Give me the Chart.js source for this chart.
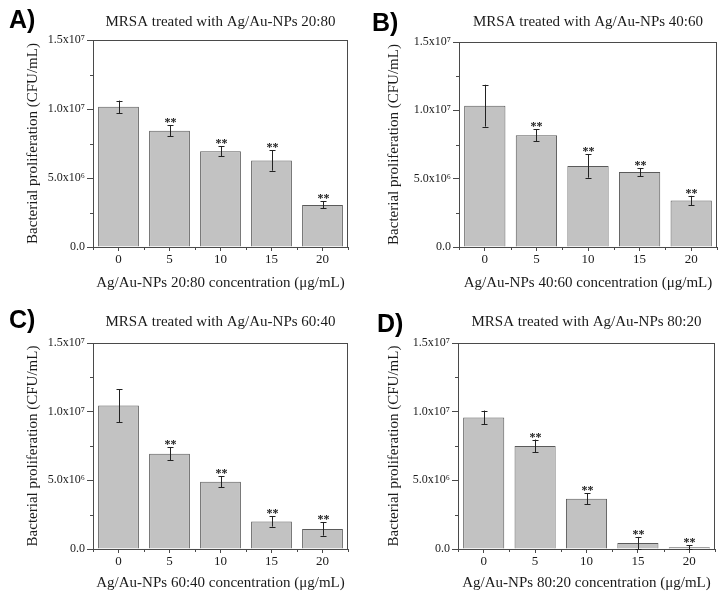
<!DOCTYPE html>
<html>
<head>
<meta charset="utf-8">
<script src="https://cdn.jsdelivr.net/npm/chart.js@4.4.1/dist/chart.umd.min.js"></script>
<style>
  html, body { margin: 0; padding: 0; background: #fff; }
  #wrap { position: relative; width: 722px; height: 600px; }
  .panel { position: absolute; width: 361px; height: 300px; }
  .panel canvas { display: block; }
</style>
</head>
<body>
<div id="wrap">
  <div class="panel" style="left:0;top:0"><canvas id="chartA" width="361" height="300"></canvas></div>
  <div class="panel" style="left:361px;top:0"><canvas id="chartB" width="361" height="300"></canvas></div>
  <div class="panel" style="left:0;top:300px"><canvas id="chartC" width="361" height="300"></canvas></div>
  <div class="panel" style="left:361px;top:300px"><canvas id="chartD" width="361" height="300"></canvas></div>
</div>
<script>
// concentrations (ug/mL)
const concLabels = ['0', '5', '10', '15', '20'];

// mean CFU/mL
const valuesA = [1.016e7, 0.842e7, 0.694e7, 0.627e7, 0.305e7];
const valuesB = [1.034e7, 0.818e7, 0.592e7, 0.548e7, 0.340e7];
const valuesC = [1.044e7, 0.694e7, 0.490e7, 0.200e7, 0.146e7];
const valuesD = [0.958e7, 0.750e7, 0.366e7, 0.044e7, 0.012e7];

// error bar half-heights
const errorsA = [0.045e7, 0.040e7, 0.036e7, 0.074e7, 0.025e7];
const errorsB = [0.153e7, 0.043e7, 0.085e7, 0.030e7, 0.034e7];
const errorsC = [0.120e7, 0.047e7, 0.040e7, 0.037e7, 0.049e7];
const errorsD = [0.050e7, 0.047e7, 0.040e7, 0.044e7, 0.015e7];

// significance marks
const sigMarks = ['', '**', '**', '**', '**'];

const ratios = ['20:80', '40:60', '60:40', '80:20'];
const panelLetters = ['A)', 'B)', 'C)', 'D)'];

// y axis ticks
const yMajorTicks = [0, 5e6, 1e7, 1.5e7];
const yTickLabels = ['0.0', '5.0x10\u2076', '1.0x10\u2077', '1.5x10\u2077'];
const yMinorTicks = [2.5e6, 7.5e6, 1.25e7];

// plot area of each panel (panel coords)
const boxes = [
  { left: 93, top: 40, right: 348, bottom: 247, lx: 9, ly: 28 },
  { left: 98, top: 42, right: 356, bottom: 247, lx: 11, ly: 31 },
  { left: 93, top: 43, right: 348, bottom: 249, lx: 9, ly: 28 },
  { left: 97, top: 43, right: 354, bottom: 249, lx: 16, ly: 32 }
];

const serif = "'Liberation Serif', 'Times New Roman', serif";
const textColor = '#1a1a1a';
const axisColor = '#4a4a4a';

const panelDecor = {
  id: 'panelDecor',
  afterDatasetsDraw(chart, args, opts) {
    const ctx = chart.ctx;
    const area = chart.chartArea;
    const x = chart.scales.x;
    const y = chart.scales.y;
    ctx.save();

    // frame
    ctx.strokeStyle = axisColor;
    ctx.lineWidth = 1;
    ctx.strokeRect(area.left + 0.5, area.top + 0.5, area.right - area.left - 1, area.bottom - area.top);

    // minor ticks
    ctx.beginPath();
    yMinorTicks.forEach(v => {
      const py = Math.round(y.getPixelForValue(v)) + 0.5;
      ctx.moveTo(area.left - 3, py);
      ctx.lineTo(area.left, py);
    });
    const n = concLabels.length;
    for (let i = 0; i <= n; i++) {
      const px = Math.round(x.getPixelForValue(i - 0.5)) + 0.5;
      ctx.moveTo(px, area.bottom);
      ctx.lineTo(px, area.bottom + 3);
    }
    ctx.stroke();

    // error bars and marks
    const meta = chart.getDatasetMeta(0);
    ctx.strokeStyle = '#222';
    ctx.fillStyle = textColor;
    ctx.font = "bold 12px " + serif;
    ctx.textAlign = 'center';
    ctx.textBaseline = 'alphabetic';
    meta.data.forEach((bar, i) => {
      const v = opts.values[i];
      const e = opts.errors[i];
      const px = Math.round(bar.x) + 0.5;
      const yt = y.getPixelForValue(v + e);
      const yb = y.getPixelForValue(Math.max(0, v - e));
      ctx.beginPath();
      ctx.moveTo(px, yt);
      ctx.lineTo(px, yb);
      ctx.moveTo(px - 3, Math.round(yt) + 0.5);
      ctx.lineTo(px + 3, Math.round(yt) + 0.5);
      ctx.moveTo(px - 3, Math.round(yb) + 0.5);
      ctx.lineTo(px + 3, Math.round(yb) + 0.5);
      ctx.stroke();
      if (sigMarks[i]) ctx.fillText(sigMarks[i], px, yt + 1);
    });

    // chart title over plot area
    ctx.font = "15px " + serif;
    ctx.textBaseline = 'middle';
    ctx.fillText(opts.title, (area.left + area.right) / 2, 22);

    // panel letter
    ctx.font = "bold 25px 'Liberation Sans', Arial, sans-serif";
    ctx.textAlign = 'left';
    ctx.textBaseline = 'alphabetic';
    ctx.fillStyle = '#000';
    ctx.fillText(opts.letter, opts.lx, opts.ly);
    ctx.restore();
  }
};

function makePanel(id, idx, values, errors) {
  const b = boxes[idx];
  const W = 361, H = 300;
  new Chart(document.getElementById(id), {
    type: 'bar',
    data: {
      labels: concLabels,
      datasets: [{
        data: values,
        backgroundColor: '#c2c2c2',
        borderColor: '#5a5a5a',
        borderWidth: 1,
        barPercentage: 0.8,
        categoryPercentage: 1.0
      }]
    },
    options: {
      responsive: false,
      animation: false,
      devicePixelRatio: 1,
      layout: { padding: { left: 0, top: b.top, right: W - b.right, bottom: 0 } },
      plugins: {
        legend: { display: false },
        tooltip: { enabled: false },
        title: { display: false },
        panelDecor: {
          values: values,
          errors: errors,
          title: 'MRSA treated with Ag/Au-NPs ' + ratios[idx],
          letter: panelLetters[idx],
          lx: b.lx,
          ly: b.ly
        }
      },
      scales: {
        x: {
          offset: true,
          afterFit(scale) { scale.height = H - b.bottom; },
          grid: { display: true, drawOnChartArea: false, offset: false, tickLength: 4, color: axisColor },
          border: { display: true, color: axisColor },
          ticks: { color: textColor, font: { family: serif, size: 13 }, padding: 1 },
          title: {
            display: true,
            text: 'Ag/Au-NPs ' + ratios[idx] + ' concentration (\u03bcg/mL)',
            color: textColor,
            font: { family: serif, size: 15 },
            padding: { top: 0, bottom: 8 }
          }
        },
        y: {
          min: 0,
          max: 1.5e7,
          afterFit(scale) { scale.width = b.left; },
          afterBuildTicks(scale) { scale.ticks = yMajorTicks.map(v => ({ value: v })); },
          grid: { display: true, drawOnChartArea: false, tickLength: 6, color: axisColor },
          border: { display: true, color: axisColor },
          ticks: {
            color: textColor,
            font: { family: serif, size: 12 },
            padding: 2,
            callback: (v) => yTickLabels[yMajorTicks.indexOf(v)]
          },
          title: {
            display: true,
            text: 'Bacterial proliferation (CFU/mL)',
            color: textColor,
            font: { family: serif, size: 15 },
            padding: { top: 24, bottom: 0 }
          }
        }
      }
    },
    plugins: [panelDecor]
  });
}

makePanel('chartA', 0, valuesA, errorsA);
makePanel('chartB', 1, valuesB, errorsB);
makePanel('chartC', 2, valuesC, errorsC);
makePanel('chartD', 3, valuesD, errorsD);
</script>
</body>
</html>
